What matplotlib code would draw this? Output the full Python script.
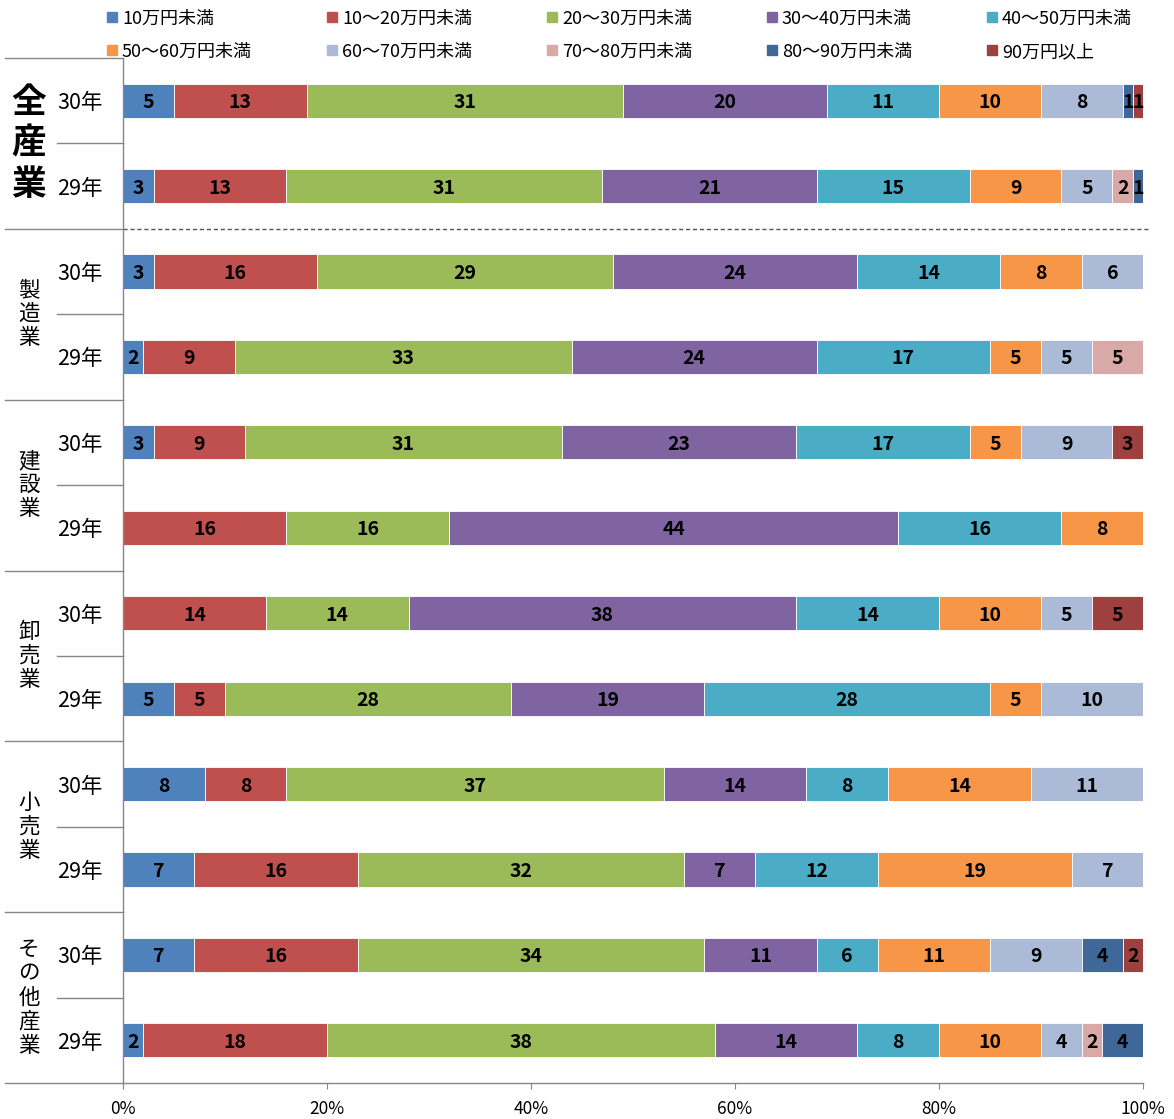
import matplotlib.pyplot as plt
import numpy as np
from matplotlib.patches import Rectangle

plt.rcParams['font.family'] = ['Noto Sans CJK JP', 'DejaVu Sans']

categories = ["10万円未満", "10〜20万円未満", "20〜30万円未満", "30〜40万円未満", "40〜50万円未満",
              "50〜60万円未満", "60〜70万円未満", "70〜80万円未満", "80〜90万円未満", "90万円以上"]
colors = ["#4F81BD", "#C0504D", "#9BBB59", "#8064A2", "#4BACC6",
          "#F79646", "#AABAD7", "#D9A9A8", "#3F6797", "#9E403E"]

industries = ["全\n産\n業", "製\n造\n業", "建\n設\n業", "卸\n売\n業", "小\n売\n業", "そ\nの\n他\n産\n業"]
years = ["30年", "29年"]

# 各行: 10区分の割合(%)
zen_30 = [5, 13, 31, 20, 11, 10, 8, 0, 1, 1]
zen_29 = [3, 13, 31, 21, 15, 9, 5, 2, 1, 0]
sei_30 = [3, 16, 29, 24, 14, 8, 6, 0, 0, 0]
sei_29 = [2, 9, 33, 24, 17, 5, 5, 5, 0, 0]
ken_30 = [3, 9, 31, 23, 17, 5, 9, 0, 0, 3]
ken_29 = [0, 16, 16, 44, 16, 8, 0, 0, 0, 0]
oroshi_30 = [0, 14, 14, 38, 14, 10, 5, 0, 0, 5]
oroshi_29 = [5, 5, 28, 19, 28, 5, 10, 0, 0, 0]
kouri_30 = [8, 8, 37, 14, 8, 14, 11, 0, 0, 0]
kouri_29 = [7, 16, 32, 7, 12, 19, 7, 0, 0, 0]
sonota_30 = [7, 16, 34, 11, 6, 11, 9, 0, 4, 2]
sonota_29 = [2, 18, 38, 14, 8, 10, 4, 2, 4, 0]

rows = np.array([zen_30, zen_29, sei_30, sei_29, ken_30, ken_29,
                 oroshi_30, oroshi_29, kouri_30, kouri_29, sonota_30, sonota_29], dtype=float)
shares = rows / rows.sum(axis=1, keepdims=True) * 100
lefts = np.cumsum(shares, axis=1) - shares
ypos = np.arange(len(rows))

W, H = 1174, 1119
fig = plt.figure(figsize=(W / 100, H / 100), dpi=100)
ax = fig.add_axes([123 / W, 1 - 1083 / H, 1020 / W, 1025 / H])

for j, cat in enumerate(categories):
    ax.barh(ypos, shares[:, j], left=lefts[:, j], height=0.4,
            color=colors[j], edgecolor='white', linewidth=0.6)
    for i in ypos:
        v = rows[i, j]
        if v > 0:
            ax.text(lefts[i, j] + shares[i, j] / 2, i, f"{int(v)}",
                    ha='center', va='center_baseline', fontsize=14, fontweight='bold', color='black')

ax.set_xlim(0, 100)
ax.set_ylim(len(rows) - 0.5, -0.5)
ax.set_yticks([])
ax.set_xticks(np.arange(0, 101, 20))
ax.set_xticklabels([f"{t}%" for t in range(0, 101, 20)], fontsize=12.5)
ax.tick_params(axis='x', direction='out', length=4, color='#868686', pad=8)
for s in ['top', 'right']:
    ax.spines[s].set_visible(False)
for s in ['left', 'bottom']:
    ax.spines[s].set_color('#868686')
    ax.spines[s].set_linewidth(1)

# 左側の表
tr = ax.get_yaxis_transform()
line_c = '#868686'
x_far = (5 - 123) / 1020
x_near = (57 - 123) / 1020
for g in range(len(industries) + 1):
    yb = g * 2 - 0.5
    ax.plot([x_far, 0], [yb, yb], transform=tr, color=line_c, lw=1, clip_on=False)
for g in range(len(industries)):
    ax.plot([x_near, 0], [g * 2 + 0.5, g * 2 + 0.5], transform=tr, color=line_c, lw=1, clip_on=False)
    for k, yr in enumerate(years):
        ax.text((80 - 123) / 1020, g * 2 + k, yr, transform=tr,
                ha='center', va='center_baseline', fontsize=15.5)
    if g == 0:
        ax.text((29 - 123) / 1020, g * 2 + 0.5, industries[g], transform=tr,
                ha='center', va='center', fontsize=25, fontweight='bold', linespacing=1.2)
    else:
        ax.text((29 - 123) / 1020, g * 2 + 0.5, industries[g], transform=tr,
                ha='center', va='center', fontsize=15.5, linespacing=1.12)

# 全産業と他の区切り線
ax.plot([0, 1.005], [1.5, 1.5], transform=tr, color='#555555', lw=1,
        ls=(0, (3, 2)), clip_on=False)

# 凡例
for j, cat in enumerate(categories):
    col, row = j % 5, j // 5
    x0 = 107 + col * 220
    yc = 17 + row * 33
    fig.add_artist(Rectangle((x0 / W, 1 - (yc + 5) / H), 10 / W, 10 / H,
                             transform=fig.transFigure, color=colors[j]))
    fig.text((x0 + 15) / W, 1 - yc / H, cat, ha='left', va='center_baseline', fontsize=13)

fig.savefig("out.png", dpi=100)
